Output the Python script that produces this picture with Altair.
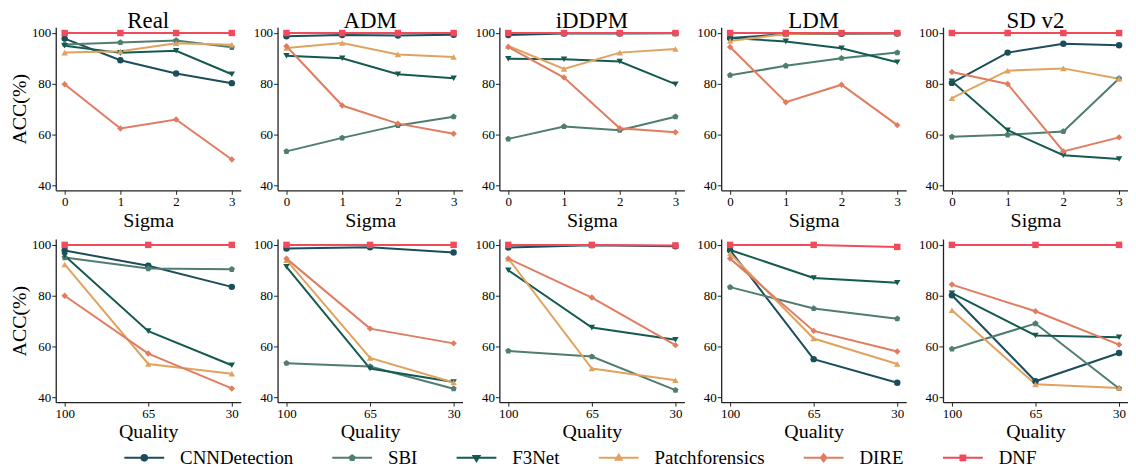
import altair as alt
import pandas as pd

methods = ["CNNDetection", "SBI", "F3Net", "Patchforensics", "DIRE", "DNF"]
colors = ["#1c4d5b", "#4f7d70", "#155a51", "#e0a35f", "#e07c60", "#f14a5b"]
datasets = ["Real", "ADM", "iDDPM", "LDM", "SD v2"]
sigma_ticks = ["0", "1", "2", "3"]
quality_ticks = ["100", "65", "30"]

# each list of lists: CNNDetection, SBI, F3Net, Patchforensics, DIRE, DNF
sigma_real = [[97.8, 89.3, 84.1, 80.3], [95.5, 96.3, 97.1, 94.4], [95.0, 92.2, 93.0, 83.8],
              [92.3, 92.8, 96.0, 95.4], [79.9, 62.5, 66.0, 50.3], [100, 100, 100, 100]]
sigma_adm = [[98.7, 99.2, 99.0, 99.3], [53.5, 58.8, 63.7, 67.1], [91.1, 90.1, 83.8, 82.2],
             [94.1, 96.1, 91.6, 90.6], [94.8, 71.5, 64.4, 60.4], [100, 100, 100, 100]]
sigma_iddpm = [[99.2, 99.8, 99.8, 99.9], [58.4, 63.3, 61.8, 67.1], [89.9, 89.7, 88.8, 79.9],
               [94.9, 85.9, 92.3, 93.7], [94.5, 82.5, 62.6, 61.0], [100, 100, 100, 100]]
sigma_ldm = [[98.0, 99.6, 99.7, 99.8], [83.4, 87.1, 90.1, 92.3], [98.0, 96.7, 94.0, 88.5],
             [96.9, 99.6, 99.9, 99.9], [94.5, 72.8, 79.7, 63.8], [100, 100, 100, 100]]
sigma_sd = [[80.4, 92.3, 95.8, 95.2], [59.2, 60.0, 61.3, 82.1], [81.0, 61.8, 52.0, 50.5],
            [74.4, 85.2, 86.1, 82.0], [84.7, 80.0, 53.5, 59.0], [100, 100, 100, 100]]

quality_real = [[97.8, 91.8, 83.5], [95.0, 90.7, 90.4], [95.7, 66.1, 52.7],
                [92.3, 53.2, 49.4], [80.0, 57.3, 43.6], [100, 100, 100]]
quality_adm = [[98.6, 99.1, 97.0], [53.5, 52.2, 43.5], [91.4, 51.4, 46.1],
               [94.0, 55.6, 45.9], [94.6, 67.1, 61.3], [100, 100, 100]]
quality_iddpm = [[99.0, 99.9, 99.5], [58.3, 56.1, 42.9], [90.0, 67.5, 62.7],
                 [94.6, 51.4, 46.8], [94.6, 79.3, 60.6], [100, 100, 99.8]]
quality_ldm = [[97.9, 55.1, 45.8], [83.4, 75.0, 71.0], [98.0, 87.0, 85.1],
               [96.6, 63.2, 53.2], [94.6, 66.2, 58.1], [100, 100, 99.2]]
quality_sd = [[80.2, 46.4, 57.5], [59.1, 69.1, 43.6], [81.0, 64.4, 63.7],
              [74.3, 45.2, 43.8], [84.4, 73.9, 60.8], [100, 100, 100]]

sigma_data = [sigma_real, sigma_adm, sigma_iddpm, sigma_ldm, sigma_sd]
quality_data = [quality_real, quality_adm, quality_iddpm, quality_ldm, quality_sd]

PENT = "M0,-1L0.951,-0.309L0.588,0.809L-0.588,0.809L-0.951,-0.309Z"
marker_shapes = ["circle", PENT, "triangle-down", "triangle-up", "diamond", "square"]
# legend glyphs: a line segment plus a small marker (unit = 10px with symbolSize 400)
legend_shapes = [
    "M-2,0H2M0.28,0A0.28,0.28,0,1,1,-0.28,0A0.28,0.28,0,1,1,0.28,0Z",
    "M-2,0H2M0,-0.26L0.248,-0.08L0.152,0.21L-0.152,0.21L-0.248,-0.08Z",
    "M-2,0H2M-0.3,-0.18L0.3,-0.18L0,0.32Z",
    "M-2,0H2M-0.3,0.18L0.3,0.18L0,-0.32Z",
    "M-2,0H2M0,-0.36L0.28,0L0,0.36L-0.28,0Z",
    "M-2,0H2M-0.24,-0.24H0.24V0.24H-0.24Z",
]

FONT = "Liberation Serif"
W = 186
H = 164
YDOM = [38.2, 102.3]


def build_df(values, ticks):
    rows = []
    for m, series in zip(methods, values):
        for i, (t, v) in enumerate(zip(ticks, series)):
            rows.append({"method": m, "xl": t, "acc": v, "idx": i})
    return pd.DataFrame(rows)


def panel(ds, values, ticks, xtitle, pad, first, top):
    d = build_df(values, ticks)
    x = alt.X("xl:N", sort=ticks,
              scale=alt.Scale(type="point", padding=pad),
              axis=alt.Axis(title=xtitle, labelAngle=0, labelFont=FONT, titleFont=FONT))
    if first:
        yax = alt.Axis(values=[40, 60, 80, 100], title="ACC(%)", labelFont=FONT, titleFont=FONT)
    else:
        yax = alt.Axis(values=[40, 60, 80, 100], title=None, labelFont=FONT)
    y = alt.Y("acc:Q", scale=alt.Scale(domain=YDOM, nice=False, zero=False), axis=yax)
    cscale = alt.Scale(domain=methods, range=colors)
    base = alt.Chart(d).encode(x=x, y=y)
    line = base.mark_line(strokeWidth=2).encode(
        color=alt.Color("method:N", scale=cscale, legend=None),
        order="idx:Q")
    pts = base.mark_point(filled=True, size=42, opacity=1).encode(
        color=alt.Color("method:N", scale=cscale, legend=None),
        shape=alt.Shape("method:N", scale=alt.Scale(domain=methods, range=marker_shapes), legend=None))
    ch = alt.layer(line, pts).properties(width=W, height=H)
    if top:
        ch = ch.properties(title=alt.Title(ds, anchor="middle", frame="group", fontSize=23,
                                           fontWeight="normal", font=FONT, offset=-6))
    return ch


row1 = alt.hconcat(*[panel(ds, v, sigma_ticks, "Sigma", 0.16, i == 0, True)
                     for i, (ds, v) in enumerate(zip(datasets, sigma_data))], spacing=12)
row2 = alt.hconcat(*[panel(ds, v, quality_ticks, "Quality", 0.107, i == 0, False)
                     for i, (ds, v) in enumerate(zip(datasets, quality_data))], spacing=12)

leg = alt.Legend(orient="none", legendX=78, legendY=0, direction="horizontal", title=None,
                 symbolSize=400, symbolStrokeWidth=2, symbolOpacity=1,
                 labelFont=FONT, labelFontSize=19, labelColor="#000", labelOffset=25,
                 columnPadding=35, padding=0)
leg_df = pd.DataFrame({"method": methods})
legend_chart = alt.Chart(leg_df).mark_point(filled=True, size=0).encode(
    fill=alt.Fill("method:N", scale=alt.Scale(domain=methods, range=colors), legend=leg),
    stroke=alt.Stroke("method:N", scale=alt.Scale(domain=methods, range=colors), legend=leg),
    shape=alt.Shape("method:N", scale=alt.Scale(domain=methods, range=legend_shapes), legend=leg),
).properties(width=1, height=1)

grid = alt.vconcat(row1, row2, spacing=8)

chart = alt.vconcat(grid, legend_chart, spacing=1).resolve_scale(
    shape="independent", color="independent", fill="independent", stroke="independent"
).configure(
    font=FONT, padding={"left": 1, "top": 0, "right": 0, "bottom": 12}
).configure_view(stroke=None).configure_axis(
    grid=False, labelFont=FONT, labelFontSize=13, labelColor="#000",
    titleFont=FONT, titleFontSize=20, titleFontWeight="normal", titleColor="#000",
    domainColor="#222", domainWidth=1.3, tickColor="#222", tickSize=4, labelPadding=1,
    titlePadding=2
)

chart.save("out.html", embed_options={"renderer": "svg", "actions": False})
